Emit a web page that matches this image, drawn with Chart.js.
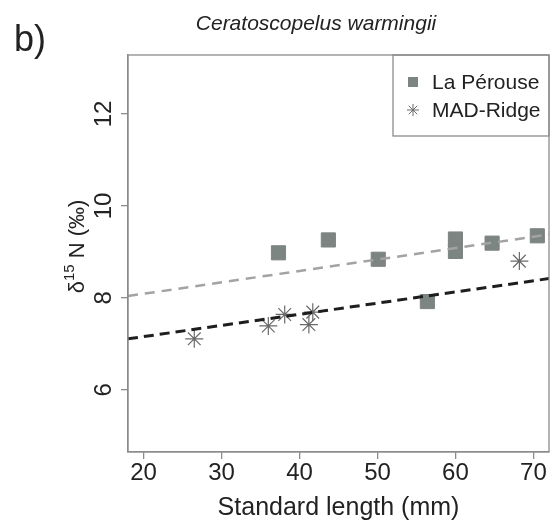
<!DOCTYPE html>
<html>
<head>
<meta charset="utf-8">
<script src="https://cdn.jsdelivr.net/npm/chart.js@4.4.0/dist/chart.umd.min.js"></script>
<style>
  html, body { margin: 0; padding: 0; background: #fff; }
</style>
</head>
<body>
<canvas id="chart" width="560" height="527"></canvas>
<script>
const panelLabel = "b)";
const chartTitle = "Ceratoscopelus warmingii";
const seriesNames = ["La Pérouse", "MAD-Ridge"];
// La Pérouse (squares)
const lapLength = [37.3, 43.7, 50.1, 56.4, 60.0, 60.0, 64.7, 70.5];
const lapN15 = [8.98, 9.26, 8.84, 7.92, 9.28, 9.01, 9.19, 9.35];
// MAD-Ridge (stars)
const madLength = [26.5, 36.0, 38.1, 41.2, 41.7, 68.2];
const madN15 = [7.11, 7.39, 7.64, 7.42, 7.69, 8.80];
// fitted lines, read at both ends of the x axis
const fitLength = [18, 72];
const lapFit = [8.04, 9.38];
const madFit = [7.11, 8.42];
const xTicks = [20, 30, 40, 50, 60, 70];
const yTicks = [6, 8, 10, 12];

const FONT = '"Liberation Sans", Arial, Helvetica, sans-serif';
const ink = '#222';
const boxColor = '#8c8c8c';
const squareColor = '#7d8582';
const starColor = '#6a6a6a';

const toPts = (xs, ys) => xs.map((x, i) => ({ x: x, y: ys[i] }));

//draws box, legend, rotated y labels and titles
const decor = {
  id: 'decor',
  afterDraw(chart) {
    const ctx = chart.ctx;
    const a = chart.chartArea;
    const ys = chart.scales.y;
    ctx.save();
    ctx.strokeStyle = boxColor;
    ctx.lineWidth = 1.3;
    ctx.strokeRect(a.left, a.top, a.right - a.left, a.bottom - a.top);

    // y tick labels, parallel to axis
    ctx.fillStyle = ink;
    ctx.font = '24px ' + FONT;
    ctx.textAlign = 'center';
    ctx.textBaseline = 'alphabetic';
    yTicks.forEach(v => {
      ctx.save();
      ctx.translate(111, ys.getPixelForValue(v));
      ctx.rotate(-Math.PI / 2);
      ctx.fillText(String(v), 0, 0);
      ctx.restore();
    });

    // y title: delta 15 N (permil)
    ctx.save();
    ctx.translate(84, (a.top + a.bottom) / 2 - 7);
    ctx.rotate(-Math.PI / 2);
    ctx.textAlign = 'left';
    const mainF = '22px ' + FONT, supF = '15px ' + FONT;
    ctx.font = mainF;
    const w1 = ctx.measureText('δ').width;
    const w3 = ctx.measureText(' N (‰)').width;
    ctx.font = supF;
    const w2 = ctx.measureText('15').width;
    let x0 = -(w1 + w2 + w3) / 2;
    ctx.font = mainF;
    ctx.fillText('δ', x0, 0);
    ctx.font = supF;
    ctx.fillText('15', x0 + w1, -10);
    ctx.font = mainF;
    ctx.fillText(' N (‰)', x0 + w1 + w2, 0);
    ctx.restore();

    // legend in top right corner
    const lx = 393, lb = 136;
    ctx.strokeStyle = boxColor;
    ctx.lineWidth = 1.3;
    ctx.strokeRect(lx, a.top, a.right - lx, lb - a.top);
    ctx.fillStyle = squareColor;
    ctx.fillRect(408, 77, 10, 10);
    ctx.strokeStyle = starColor;
    ctx.lineWidth = 1;
    const sx = 413, sy = 110, r = 6;
    ctx.beginPath();
    for (let k = 0; k < 4; k++) {
      const ang = k * Math.PI / 4;
      ctx.moveTo(sx - Math.cos(ang) * r, sy - Math.sin(ang) * r);
      ctx.lineTo(sx + Math.cos(ang) * r, sy + Math.sin(ang) * r);
    }
    ctx.stroke();
    ctx.fillStyle = ink;
    ctx.font = '21px ' + FONT;
    ctx.textAlign = 'left';
    ctx.textBaseline = 'middle';
    ctx.fillText(seriesNames[0], 432, 83);
    ctx.fillText(seriesNames[1], 432, 111);

    // chart title and panel label
    ctx.textBaseline = 'alphabetic';
    ctx.textAlign = 'center';
    ctx.font = 'italic 21px ' + FONT;
    ctx.fillText(chartTitle, 316, 30);
    ctx.textAlign = 'left';
    ctx.font = '36px ' + FONT;
    ctx.fillText(panelLabel, 14, 51);
    ctx.restore();
  }
};

new Chart(document.getElementById('chart'), {
  type: 'scatter',
  plugins: [decor],
  data: {
    datasets: [
      {
        type: 'line',
        data: toPts(fitLength, lapFit),
        borderColor: '#a3a3a3',
        borderWidth: 2.5,
        borderDash: [10, 7],
        pointRadius: 0,
        order: 0
      },
      {
        type: 'line',
        data: toPts(fitLength, madFit),
        borderColor: '#1e1e1e',
        borderWidth: 3,
        borderDash: [10, 6],
        pointRadius: 0,
        order: 0
      },
      {
        label: seriesNames[0],
        data: toPts(lapLength, lapN15),
        pointStyle: 'rect',
        pointRadius: 10,
        backgroundColor: squareColor,
        borderColor: squareColor,
        borderWidth: 1,
        order: 1
      },
      {
        label: seriesNames[1],
        data: toPts(madLength, madN15),
        pointStyle: 'star',
        pointRadius: 9,
        borderColor: starColor,
        borderWidth: 1.2,
        order: 1
      }
    ]
  },
  options: {
    responsive: false,
    animation: false,
    layout: { padding: { top: 55, right: 3, left: 0, bottom: 0 } },
    plugins: {
      legend: { display: false },
      tooltip: { enabled: false }
    },
    scales: {
      x: {
        type: 'linear',
        min: 18,
        max: 72,
        afterBuildTicks: s => { s.ticks = xTicks.map(v => ({ value: v })); },
        afterFit: s => { s.height = 75; },
        grid: { drawOnChartArea: false, drawTicks: true, tickLength: 7, color: boxColor, lineWidth: 1.3 },
        border: { display: true, color: boxColor, width: 1.3 },
        ticks: { color: ink, font: { size: 24, family: FONT }, padding: 0, maxRotation: 0 },
        title: {
          display: true,
          text: 'Standard length (mm)',
          color: ink,
          font: { size: 25, family: FONT },
          padding: { top: 0, bottom: 4 }
        }
      },
      y: {
        type: 'linear',
        min: 4.65,
        max: 13.28,
        afterBuildTicks: s => { s.ticks = yTicks.map(v => ({ value: v })); },
        afterFit: s => { s.width = 128; },
        grid: { drawOnChartArea: false, drawTicks: true, tickLength: 7, color: boxColor, lineWidth: 1.3 },
        border: { display: true, color: boxColor, width: 1.3 },
        ticks: { display: false }
      }
    }
  }
});
</script>
</body>
</html>
